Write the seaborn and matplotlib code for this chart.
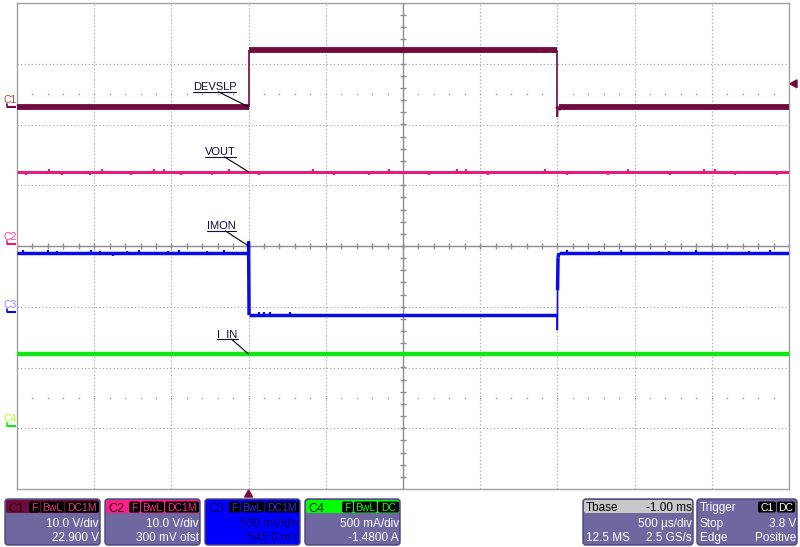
import numpy as np
import pandas as pd
import seaborn as sns
import matplotlib.pyplot as plt
from matplotlib.patches import FancyBboxPatch, Polygon

# time axis: 500 us/div, 10 divisions, trigger (t = 0) on the 3rd line
t_min, t_max = -1.5, 3.5
t_per_div = 0.5
y_min, y_max = -4, 4

# channel settings: units per division and offset
scale = {'C1': 10.0, 'C2': 10.0, 'C3': 0.5, 'C4': 0.5}
offset = {'C1': 22.9, 'C2': 0.3, 'C3': -0.545, 'C4': -1.48}
trig_level = 3.8  # V on C1

# C1 DEVSLP (V)
devslp_t = [-1.5, 0.0, 0.0, 2.0, 2.0, 2.002, 2.012, 3.5]
devslp_v = [0.0, 0.0, 9.4, 9.4, -1.7, -0.4, 0.0, 0.0]
devslp_glitch_t = [1.86, 1.91, 1.94, 1.97]
devslp_glitch_dv = [-0.6, -0.5, -0.6, -0.5]

# C2 VOUT (V)
vout_t = [-1.5, 3.5]
vout_v = [11.9, 11.9]
vout_glitch_t = [-1.44, -1.40, -1.37, -1.29, -1.21, -1.17, -1.12, -1.03, -0.95, -0.89,
                 -0.84, -0.76, -0.66, -0.61, -0.55, -0.44, -0.35, -0.29, -0.24, -0.13,
                 -0.05, 0.07, 0.18, 0.24, 0.31, 0.42, 0.55, 0.60, 0.66, 0.78,
                 0.91, 0.97, 1.04, 1.17, 1.29, 1.35, 1.41, 1.55, 1.67, 1.73,
                 1.79, 1.92, 2.06, 2.12, 2.19, 2.33, 2.46, 2.52, 2.61, 2.73,
                 2.87, 2.95, 3.02, 3.15, 3.29, 3.35, 3.42]
vout_glitch_dv = [-0.5, -0.4, -0.4, 0.4, -0.5, -0.4, -0.4, -0.5, 0.4, -0.4,
                  -0.4, -0.5, -0.4, 0.4, 0.4, -0.5, -0.4, -0.4, -0.5, 0.4,
                  -0.4, -0.5, -0.4, -0.4, -0.4, 0.4, -0.5, -0.4, -0.4, -0.5,
                  0.4, -0.4, -0.4, -0.5, -0.4, 0.4, 0.4, -0.5, -0.4, -0.4,
                  -0.4, 0.4, -0.5, -0.4, -0.4, -0.5, 0.4, -0.4, -0.4, -0.5,
                  -0.4, 0.4, 0.4, -0.5, -0.4, -0.4, -0.5]

# C3 IMON (V)
imon_t = [-1.5, 0.0, 0.0, 0.003, 2.0, 2.0, 2.001, 2.004, 2.009, 3.5]
imon_v = [0.487, 0.487, 0.585, -0.023, -0.023, -0.15, 0.18, 0.45, 0.487, 0.487]
imon_glitch_t = [-1.46, -1.39, -1.30, -1.24, -1.13, -1.02, -0.96, -0.88, -0.79, -0.71,
                 -0.61, -0.52, -0.45, -0.36, -0.27, -0.16, -0.08, 0.07, 0.10, 0.14,
                 0.27, 2.06, 2.15, 2.27, 2.41, 2.56, 2.72, 2.90, 3.07, 3.24, 3.38]
imon_glitch_dv = [0.025, -0.02, 0.025, 0.02, -0.02, 0.025, 0.02, -0.025, 0.02, 0.025,
                  -0.02, 0.02, 0.025, -0.02, 0.02, 0.025, -0.02, 0.022, 0.022, 0.025,
                  0.022, 0.025, -0.02, 0.02, 0.025, -0.02, 0.02, 0.025, -0.02, 0.02, 0.025]
imon_glitch_base = [0.487] * 17 + [-0.023] * 4 + [0.487] * 10

# C4 I_IN (A)
iin_t = [-1.5, 3.5]
iin_v = [0.59, 0.59]

colors = {'C1': '#720c3e', 'C2': '#e51d7c', 'C3': '#0a0ae6', 'C4': '#14e614'}
flat_lw = {'C1': 4.2, 'C2': 2.2, 'C3': 2.5, 'C4': 3.2}
edge_lw = {'C1': 1.2, 'C2': 1.2, 'C3': 1.2, 'C4': 1.2}


def to_div(v, ch):
    return (np.asarray(v, dtype=float) + offset[ch]) / scale[ch]


def segments(t, v, ch):
    rows = []
    d = to_div(v, ch)
    for i in range(len(t) - 1):
        kind = 'edge' if abs(t[i + 1] - t[i]) < 0.003 else 'flat'
        rows.append((i, kind, t[i], d[i]))
        rows.append((i, kind, t[i + 1], d[i + 1]))
    return pd.DataFrame(rows, columns=['seg', 'kind', 't', 'div'])


def glitches(gt, gdv, base, ch):
    rows = []
    for i, (tt, dv, b) in enumerate(zip(gt, gdv, base)):
        rows.append((i, tt, to_div(b, ch)))
        rows.append((i, tt, to_div(b + dv, ch)))
    return pd.DataFrame(rows, columns=['seg', 't', 'div'])


sns.set_style('white')
plt.rcParams['font.family'] = ['Liberation Sans', 'DejaVu Sans']

W, H = 800, 547
fig = plt.figure(figsize=(W / 100, H / 100), dpi=100)
px_l, px_r, px_t, px_b = 17, 789, 3, 489
ax = fig.add_axes([px_l / W, (H - px_b) / H, (px_r - px_l) / W, (px_b - px_t) / H])
ax.set_xlim(t_min, t_max)
ax.set_ylim(y_min, y_max)
ax.set_xticks([])
ax.set_yticks([])
for s in ax.spines.values():
    s.set_color('#a0a0a0')
    s.set_linewidth(1.0)

grid_c = '#9a9a9a'
t_mid = (t_min + t_max) / 2
for k in range(1, 10):
    x = t_min + k * t_per_div
    if k != 5:
        ax.axvline(x, color=grid_c, lw=0.8, ls=(0, (1, 2.2)), zorder=1)
for y in range(-3, 4):
    if y != 0:
        ax.axhline(y, color=grid_c, lw=0.8, ls=(0, (1, 2.2)), zorder=1)
ax.axhline(0, color='#8c8c8c', lw=1.0, zorder=1)
ax.axvline(t_mid, color='#8c8c8c', lw=1.0, zorder=1)
minor_t = np.arange(t_min, t_max + 1e-9, t_per_div / 5)
minor_y = np.arange(y_min, y_max + 1e-9, 0.2)
ax.plot(minor_t, np.zeros_like(minor_t), ls='none', marker='|', ms=4, mew=1, color='#8c8c8c', zorder=1)
ax.plot(np.full_like(minor_y, t_mid), minor_y, ls='none', marker='_', ms=4, mew=1, color='#8c8c8c', zorder=1)
for yy in (2.5, -2.5):
    ax.plot(minor_t, np.full_like(minor_t, yy), ls='none', marker='s', ms=0.9, mew=0, color='#8c8c8c', zorder=1)

traces = [('C1', devslp_t, devslp_v), ('C2', vout_t, vout_v),
          ('C3', imon_t, imon_v), ('C4', iin_t, iin_v)]
for ch, t, v in traces:
    seg = segments(t, v, ch)
    flat = seg[seg['kind'] == 'flat']
    edge = seg[seg['kind'] == 'edge']
    sns.lineplot(data=flat, x='t', y='div', units='seg', estimator=None, sort=False,
                 color=colors[ch], lw=flat_lw[ch], solid_capstyle='butt', ax=ax, zorder=3)
    if len(edge):
        sns.lineplot(data=edge, x='t', y='div', units='seg', estimator=None, sort=False,
                     color=colors[ch], lw=edge_lw[ch], solid_capstyle='butt', ax=ax, zorder=3)

g1 = glitches(devslp_glitch_t, devslp_glitch_dv, [devslp_v[2]] * len(devslp_glitch_t), 'C1')
sns.lineplot(data=g1, x='t', y='div', units='seg', estimator=None, sort=False,
             color=colors['C1'], lw=1.4, solid_capstyle='butt', ax=ax, zorder=3)
g2 = glitches(vout_glitch_t, vout_glitch_dv, [vout_v[0]] * len(vout_glitch_t), 'C2')
sns.lineplot(data=g2, x='t', y='div', units='seg', estimator=None, sort=False,
             color=colors['C2'], lw=1.6, solid_capstyle='butt', ax=ax, zorder=3)
g3 = glitches(imon_glitch_t, imon_glitch_dv, imon_glitch_base, 'C3')
sns.lineplot(data=g3, x='t', y='div', units='seg', estimator=None, sort=False,
             color=colors['C3'], lw=1.6, solid_capstyle='butt', ax=ax, zorder=3)
ax.set_xlabel('')
ax.set_ylabel('')

# overlay in pixel coordinates for annotations and info panels
ov = fig.add_axes([0, 0, 1, 1], facecolor='none')
ov.set_xlim(0, W)
ov.set_ylim(H, 0)
ov.axis('off')


def tpx(t):
    return px_l + (t - t_min) / (t_max - t_min) * (px_r - px_l)


def ypx(d):
    return px_t + (y_max - d) / (y_max - y_min) * (px_b - px_t)


# trace labels with leader lines
labels = [('DEVSLP', 'C1', devslp_v[0], 193, 236),
          ('VOUT', 'C2', vout_v[0], 205, 236),
          ('IMON', 'C3', None, 207, 236),
          ('I_IN', 'C4', iin_v[0], 217, 238)]
for text, ch, val, x0, x1 in labels:
    yt = ypx(to_div(val, ch)) if val is not None else ypx(0)
    yu = yt - 15
    ov.text(x0, yu - 2, text, fontsize=8, color='#0c0c40', ha='left', va='baseline')
    ov.plot([x0, x1], [yu, yu], color='#0c0c40', lw=0.8)
    ov.plot([(x0 + x1) / 2 + 4, tpx(0)], [yu, yt], color='black', lw=0.8)

# channel ground markers at the left edge
left_cols = {'C1': '#b0403c', 'C2': '#ff3c96', 'C3': '#8a8aff', 'C4': '#b4ff1e'}
for ch in ['C1', 'C2', 'C3', 'C4']:
    y0 = ypx(offset[ch] / scale[ch])
    ov.text(4, y0 - 4, ch, fontsize=7.5, color=left_cols[ch], ha='left', va='baseline')
    ov.plot([7, 16], [y0, y0], color=colors[ch], lw=1.5, solid_capstyle='butt')
    ov.plot([7, 7], [y0 - 3, y0], color=colors[ch], lw=1.2)

# trigger markers
yt = ypx(to_div(trig_level, 'C1'))
ov.add_patch(Polygon([[790, yt], [797, yt - 4], [797, yt + 4]], closed=True, color=colors['C1']))
ov.add_patch(Polygon([[tpx(0), 490], [tpx(0) - 4, 497], [tpx(0) + 4, 497]], closed=True, color=colors['C1']))

# info panels
body_c = '#6f68a0'
edge_c = '#4a4478'


def panel(x0, x1, hdr_c, body=body_c):
    ov.add_patch(FancyBboxPatch((x0, 499), x1 - x0, 46, boxstyle='round,pad=0,rounding_size=3',
                                fc=body, ec=edge_c, lw=1))
    if hdr_c is not None:
        ov.add_patch(FancyBboxPatch((x0 + 1, 500), x1 - x0 - 2, 13, boxstyle='round,pad=0,rounding_size=2',
                                    fc=hdr_c, ec='none'))


def tag(x0, x1, text, tc):
    ov.add_patch(FancyBboxPatch((x0, 501.5), x1 - x0, 11, boxstyle='round,pad=0,rounding_size=2',
                                fc='black', ec='none'))
    ov.text((x0 + x1) / 2, 511, text, fontsize=7.5, color=tc, ha='center', va='baseline')


chan_panels = [('C1', 5, 100, '#700a3c', '#2a0010', '#e0407a', 'white', ['10.0 V/div', '22.900 V'], 'DC1M'),
               ('C2', 105, 200, '#ff1f86', '#3a0018', '#ff2a8a', 'white', ['10.0 V/div', '300 mV ofst'], 'DC1M'),
               ('C3', 205, 300, '#0000ff', '#000050', '#2a2aff', '#000060', ['500 mV/div', '-545.0 mV'], 'DC1M'),
               ('C4', 305, 400, '#00ff00', '#002a00', '#00ff00', 'white', ['500 mA/div', '-1.4800 A'], 'DC')]
for ch, x0, x1, hc, namec, tagc, txtc, lines, cpl in chan_panels:
    panel(x0, x1, hc, body=hc if ch == 'C3' else body_c)
    ov.text(x0 + 3, 511.5, ch, fontsize=9, color=namec, ha='left', va='baseline')
    if cpl == 'DC1M':
        tag(x1 - 35, x1 - 1, 'DC1M', tagc)
        tag(x1 - 59, x1 - 36, 'BwL', tagc)
        tag(x1 - 71, x1 - 60, 'F', tagc)
    else:
        tag(x1 - 22, x1 - 1, 'DC', tagc)
        tag(x1 - 46, x1 - 23, 'BwL', tagc)
        tag(x1 - 58, x1 - 47, 'F', tagc)
    ov.text(x1 - 1, 527, lines[0], fontsize=8.5, color=txtc, ha='right', va='baseline')
    ov.text(x1 - 1, 541, lines[1], fontsize=8.5, color=txtc, ha='right', va='baseline')

panel(583, 693, '#c8c8c8')
ov.text(586, 511, 'Tbase', fontsize=8.5, color='black', ha='left', va='baseline')
ov.text(692, 511, '-1.00 ms', fontsize=8.5, color='black', ha='right', va='baseline')
ov.text(692, 527, '500 µs/div', fontsize=8.5, color='white', ha='right', va='baseline')
ov.text(586, 541, '12.5 MS', fontsize=8.5, color='white', ha='left', va='baseline')
ov.text(692, 541, '2.5 GS/s', fontsize=8.5, color='white', ha='right', va='baseline')

panel(697, 797, None)
ov.text(700, 511, 'Trigger', fontsize=8.5, color='white', ha='left', va='baseline')
tag(758, 776, 'C1', 'white')
tag(777, 795, 'DC', 'white')
ov.text(700, 527, 'Stop', fontsize=8.5, color='white', ha='left', va='baseline')
ov.text(796, 527, '3.8 V', fontsize=8.5, color='white', ha='right', va='baseline')
ov.text(700, 541, 'Edge', fontsize=8.5, color='white', ha='left', va='baseline')
ov.text(796, 541, 'Positive', fontsize=8.5, color='white', ha='right', va='baseline')

fig.savefig('out.png', dpi=100)
